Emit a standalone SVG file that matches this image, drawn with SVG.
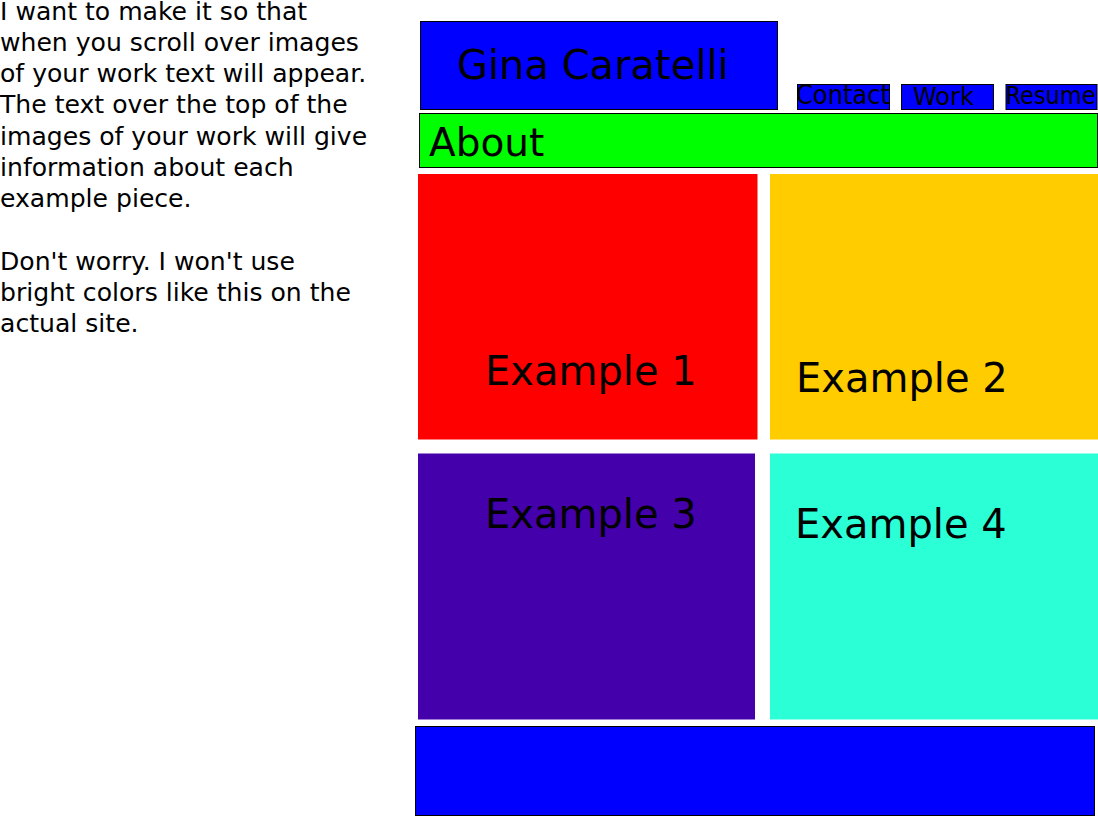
<svg xmlns="http://www.w3.org/2000/svg" width="1098" height="816" viewBox="0 0 1098 816">
  <style>
    text { font-family: "DejaVu Sans", Verdana, sans-serif; fill: #000; }
    .box { stroke: #000; stroke-width: 1; }
    .blue { fill: #0000ff; }
    .big { font-size: 40px; }
    .nav { font-size: 24px; }
    .note { font-size: 25.1px; }
  </style>
  <rect width="1098" height="816" fill="#ffffff"/>
  <g id="notes">
    <text class="note" x="0" y="19.5">I want to make it so that</text>
    <text class="note" x="0" y="50.75">when you scroll over images</text>
    <text class="note" x="0" y="82">of your work text will appear.</text>
    <text class="note" x="0" y="113.25">The text over the top of the</text>
    <text class="note" x="0" y="144.5">images of your work will give</text>
    <text class="note" x="0" y="175.75">information about each</text>
    <text class="note" x="0" y="207">example piece.</text>
    <text class="note" x="0" y="269.5">Don't worry. I won't use</text>
    <text class="note" x="0" y="300.75">bright colors like this on the</text>
    <text class="note" x="0" y="332">actual site.</text>
  </g>
  <g id="header">
    <rect class="box blue" x="420.5" y="21.5" width="357" height="88"/>
    <text class="big" x="457" y="79">Gina Caratelli</text>
  </g>
  <g id="nav-contact">
    <rect class="box blue" x="797.5" y="84.5" width="92" height="25"/>
    <text x="796" y="104" font-size="27" textLength="94" lengthAdjust="spacingAndGlyphs">Contact</text>
  </g>
  <g id="nav-work">
    <rect class="box blue" x="901.5" y="84.5" width="92" height="25"/>
    <text class="nav" x="913" y="105">Work</text>
  </g>
  <g id="nav-resume">
    <rect class="box blue" x="1006" y="84.5" width="91" height="25"/>
    <text x="1005.5" y="103.5" font-size="25" textLength="90" lengthAdjust="spacingAndGlyphs">Resume</text>
  </g>
  <g id="about">
    <rect class="box" x="419.5" y="113.5" width="678" height="54" fill="#00ff00"/>
    <text x="429" y="156" font-size="39">About</text>
  </g>
  <g id="example1">
    <rect x="418" y="174" width="339.5" height="265.5" fill="#ff0000"/>
    <text class="big" x="485" y="384.5">Example 1</text>
  </g>
  <g id="example2">
    <rect x="770" y="174" width="328" height="265.5" fill="#ffcc00"/>
    <text class="big" x="796" y="391.5">Example 2</text>
  </g>
  <g id="example3">
    <rect x="418" y="453.5" width="337" height="266" fill="#4400aa"/>
    <text class="big" x="485" y="528">Example 3</text>
  </g>
  <g id="example4">
    <rect x="770" y="453.5" width="328" height="266" fill="#2affd5"/>
    <text class="big" x="795" y="538">Example 4</text>
  </g>
  <g id="footer">
    <rect class="box blue" x="415.5" y="726.5" width="679" height="89"/>
  </g>
  <g id="connectors"/>
</svg>
